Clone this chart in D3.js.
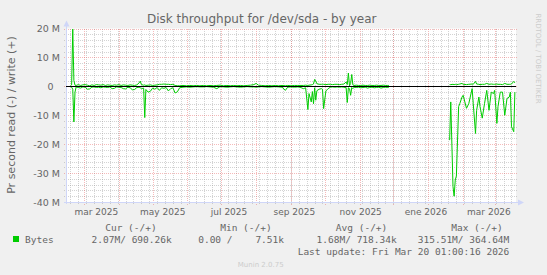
<!DOCTYPE html>
<html><head><meta charset="utf-8">
<script src="https://cdn.jsdelivr.net/npm/d3@7"></script>
<style>
html,body{margin:0;padding:0;background:#f0f0f0;}
svg{display:block;}
text{font-family:"DejaVu Sans",sans-serif;fill:#666666;}
.mono{font-family:"DejaVu Sans Mono",monospace;white-space:pre;}
</style></head><body>
<svg id="chart" width="547" height="275"></svg>
<script>
// ---------- data ----------
const title = "Disk throughput for /dev/sda - by year";
const yTitle = "Pr second read (-) / write (+)";
const startDate = new Date(2025, 1, 13, 1, 0, 16);
const endDate = new Date(2026, 2, 20, 1, 0, 16);
const yMajorTicks = [20, 10, 0, -10, -20, -30, -40];           // M
const yTickLabels = ["20 M", "10 M", "0", "-10 M", "-20 M", "-30 M", "-40 M"];
const xLabelDates = ["2025-03-12", "2025-05-10", "2025-07-08", "2025-09-04", "2025-11-02", "2025-12-30", "2026-02-24"];
const xLabels = ["mar 2025", "may 2025", "jul 2025", "sep 2025", "nov 2025", "ene 2026", "mar 2026"];
// days since startDate
const dayOffsets = [
  4,5,6,7,8,9,11,13,15,17,19,21,23,25,27,29,31,33,35,37,39,41,43,45,47,49,51,53,55,57,59,61,63,65,66,67,69,70,71,73,75,77,79,81,83,85,87,89,91,93,95,97,99,
  101,104,107,110,113,116,119,122,125,128,131,134,137,140,143,146,149,152,155,158,161,164,167,169,171,174,177,180,183,186,189,192,195,197,200,203,206,
  208,211,213,215,216,218,219,220,221,222,223,225,227,228,229,231,233,235,237,239,241,243,245,247,249,250,251,252,253,254,255,256,258,260,262,264,266,268,270,272,274,276,278,280,282,284,286,287,
  314,
  341,342,344,345,346,347,349,350,352,353,356,358,361,362,364,365,367,368,370,372,374,376,378,380,381,383,384,386,388,390,392,394,395,396,398,399
];
// write bytes/s (M), positive side
const writeM = [
  0.2,0.5,19.8,2.0,0.4,0.3,0.6,0.3,0.5,0.6,0.4,0.2,0.5,0.3,0.6,0.5,0.4,0.6,0.3,0.5,0.4,0.3,0.5,0.4,0.6,0.3,0.5,0.4,0.3,0.5,0.4,0.3,0.5,1.2,1.8,0.6,0.4,0.5,0.3,0.4,0.5,0.3,0.4,0.5,0.7,0.7,0.8,0.7,0.7,0.6,0.7,0.3,0.2,
  0.2,0.3,0.2,0.3,0.2,0.3,0.2,0.3,0.2,0.3,0.2,0.3,0.4,0.2,0.3,0.2,0.3,0.2,0.3,0.2,0.3,0.4,0.6,1.0,0.4,0.3,0.2,0.3,0.2,0.3,0.2,0.3,0.2,0.3,0.2,0.3,0.3,
  0.3,0.3,0.4,0.3,0.4,0.5,0.6,0.8,2.4,1.8,0.9,0.7,0.7,0.7,0.7,0.6,0.7,0.7,0.6,0.7,0.7,0.6,0.7,0.8,1.5,0.6,4.6,0.2,1.0,4.1,0.5,0.3,0.4,0.3,0.3,0.4,0.3,0.3,0.4,0.3,0.3,0.4,0.3,0.3,0.4,0.3,0.3,0.3,
  null,
  0.6,0.6,0.7,0.6,0.7,0.6,0.7,0.8,1.0,0.7,0.6,0.7,0.8,0.7,1.7,0.8,0.7,0.6,0.7,0.7,1.0,0.7,0.8,0.7,0.7,0.8,0.7,0.7,0.6,1.0,0.7,0.7,0.7,0.8,1.7,1.2
];
// read bytes/s (M), drawn negative
const readM = [
  -0.1,-0.3,-1.0,-12.3,-2.0,-0.2,-0.4,-0.6,-0.2,-0.3,-1.0,-0.9,-0.3,-0.2,-0.4,-0.3,-0.5,-0.2,-0.3,-0.4,-0.2,-0.8,-0.7,-0.2,-0.3,-0.4,-0.8,-0.9,-0.3,-0.5,-1.2,-1.1,-0.4,-0.3,-0.5,-0.8,-0.6,-10.8,-1.1,-2.0,-1.7,-0.6,-1.0,-0.4,-1.4,-0.5,-0.7,-0.4,-1.6,-0.8,-0.5,-2.3,-1.9,
  -0.5,-0.3,-0.2,-0.3,-0.2,-0.1,-0.2,-0.2,-0.1,-0.2,-0.3,-0.8,-0.1,-0.2,-0.3,-0.2,-0.1,-0.2,-0.3,-0.2,-0.1,-0.2,-0.2,-0.3,-0.2,-0.1,-0.2,-0.3,-0.2,-0.1,-0.2,-0.3,-1.4,-0.3,-0.2,-0.3,-0.2,
  -0.3,-0.8,-0.5,-8.0,-2.5,-5.4,-1.8,-6.0,-0.5,-4.8,-1.5,-1.0,-0.8,-1.0,-7.7,-1.6,-0.8,-0.3,-0.2,-0.3,-0.2,-0.3,-0.2,-0.3,-0.5,-5.6,-0.5,-0.8,-3.1,-0.4,-0.8,-0.3,-0.4,-0.3,-0.5,-0.4,-0.3,-0.6,-0.4,-0.3,-0.5,-0.4,-0.3,-0.6,-0.4,-0.3,-0.4,-0.3,
  null,
  -18.6,-5.4,-34.7,-38.0,-32.4,-31.0,-7.0,-6.0,-3.7,-3.1,-7.6,-6.0,-0.8,-6.0,-16.3,-8.3,-3.7,-7.0,-11.0,-6.0,-1.4,-8.3,-2.0,-2.5,-1.4,-12.8,-7.0,-2.0,-2.0,-10.0,-4.2,-3.7,-2.0,-14.0,-15.7,-2.0
];
const seriesName = "Bytes";
const legendHeaders = ["Cur (-/+)", "Min (-/+)", "Avg (-/+)", "Max (-/+)"];
const legendValues = ["2.07M/ 690.26k", "0.00 /    7.51k", "1.68M/ 718.34k", "315.51M/ 364.64M"];
const lastUpdate = "Last update: Fri Mar 20 01:00:16 2026";
const watermark = "RRDTOOL / TOBI OETIKER";
const footer = "Munin 2.0.75";

// ---------- layout ----------
const svg = d3.select("#chart");
const X0 = 66, X1 = 516, YT = 28.5, YB = 202;
const x = d3.scaleTime().domain([startDate, endDate]).range([X0, X1]);
const y = d3.scaleLinear().domain([-40, 20]).range([YB, YT]);
const px = v => Math.round(v) + 0.5;
const minorCol = "rgba(150,150,150,0.42)";
const majorCol = "rgba(230,90,90,0.42)";

svg.append("rect").attr("width", 547).attr("height", 275).attr("fill", "#f0f0f0");
svg.append("rect").attr("x", X0).attr("y", YT).attr("width", X1 - X0).attr("height", YB - YT).attr("fill", "#ffffff");

const grid = svg.append("g").attr("shape-rendering", "crispEdges");
// minor horizontal grid every 2M
const minorY = d3.range(-40, 21, 2).filter(v => v % 10 !== 0);
grid.selectAll(".hmin").data(minorY).join("line")
  .attr("x1", X0 - 2).attr("x2", X1 + 2).attr("y1", d => px(y(d))).attr("y2", d => px(y(d)))
  .attr("stroke", minorCol).attr("stroke-dasharray", "1,1");
// minor vertical grid: weeks
const weeks = d3.timeMonday.range(startDate, endDate);
grid.selectAll(".vmin").data(weeks).join("line")
  .attr("x1", d => px(x(d))).attr("x2", d => px(x(d))).attr("y1", YT).attr("y2", YB + 2)
  .attr("stroke", minorCol).attr("stroke-dasharray", "1,1");
// major horizontal
grid.selectAll(".hmaj").data(yMajorTicks).join("line")
  .attr("x1", X0 - 2).attr("x2", X1 + 2).attr("y1", d => px(y(d))).attr("y2", d => px(y(d)))
  .attr("stroke", majorCol).attr("stroke-dasharray", "1,1");
// major vertical: months
const months = d3.timeMonth.range(d3.timeMonth.ceil(startDate), endDate);
grid.selectAll(".vmaj").data(months).join("line")
  .attr("x1", d => px(x(d))).attr("x2", d => px(x(d))).attr("y1", YT).attr("y2", YB + 4)
  .attr("stroke", majorCol).attr("stroke-dasharray", "1,1");

// axes
const axisCol = "#CFD6F8";
grid.append("line").attr("x1", px(X0)).attr("x2", px(X0)).attr("y1", YB + 2).attr("y2", 24).attr("stroke", axisCol);
grid.append("line").attr("x1", X0 - 2).attr("x2", X1 + 5).attr("y1", px(YB)).attr("y2", px(YB)).attr("stroke", axisCol);
svg.append("path").attr("d", `M${X0 - 2.5},26.5 L${X0 + 0.5},20.5 L${X0 + 3.5},26.5 Z`).attr("fill", axisCol);
svg.append("path").attr("d", `M${X1 + 2},${YB - 2.5} L${X1 + 8},${YB + 0.5} L${X1 + 2},${YB + 3.5} Z`).attr("fill", axisCol);

// series lines
const pts = dayOffsets.map((d, i) => ({ t: d3.timeDay.offset(startDate, d), w: writeM[i], r: readM[i] }));
const lineW = d3.line().defined(p => p.w != null).x(p => x(p.t)).y(p => y(p.w));
const lineR = d3.line().defined(p => p.r != null).x(p => x(p.t)).y(p => y(p.r));
svg.append("path").attr("d", lineR(pts)).attr("fill", "none").attr("stroke", "#00cc00").attr("stroke-width", 1);
svg.append("path").attr("d", lineW(pts)).attr("fill", "none").attr("stroke", "#00cc00").attr("stroke-width", 1);
// zero rule
svg.append("line").attr("x1", X0).attr("x2", X1).attr("y1", y(0)).attr("y2", y(0))
  .attr("stroke", "#000").attr("stroke-width", 1).attr("shape-rendering", "crispEdges");

// y labels
svg.selectAll(".ylab").data(yMajorTicks).join("text")
  .attr("x", (d, i) => yTickLabels[i] === "0" ? 53.5 : 60).attr("y", d => y(d) + 3.7)
  .attr("text-anchor", "end").attr("font-size", "9.5px").text((d, i) => yTickLabels[i]);
// x labels
svg.selectAll(".xlab").data(xLabelDates).join("text")
  .attr("x", d => x(d3.timeParse("%Y-%m-%d")(d))).attr("y", 215)
  .attr("text-anchor", "middle").attr("font-size", "9px").text((d, i) => xLabels[i]);

// titles
svg.append("text").attr("x", 261.7).attr("y", 22.8).attr("text-anchor", "middle").attr("font-size", "12px").text(title);
svg.append("text").attr("transform", "translate(14.5,115) rotate(-90)").attr("text-anchor", "middle")
  .attr("font-size", "11px").text(yTitle);
svg.append("text").attr("transform", "translate(535.5,58.5) rotate(90)").attr("text-anchor", "middle")
  .attr("font-size", "7px").style("fill", "#cccccc").text(watermark);

// legend
const hdrEnd = [156.7, 271.7, 387.3, 502.7];
const valEnd = [171.7, 284, 396.7, 509.3];
svg.selectAll(".lh").data(legendHeaders).join("text").attr("class", "mono")
  .attr("x", (d, i) => hdrEnd[i]).attr("y", 231).attr("text-anchor", "end").attr("font-size", "9.5px").text(d => d);
svg.selectAll(".lv").data(legendValues).join("text").attr("class", "mono")
  .attr("x", (d, i) => valEnd[i]).attr("y", 242.5).attr("text-anchor", "end").attr("font-size", "9.5px").text(d => d);
svg.append("rect").attr("x", 13).attr("y", 236).attr("width", 6).attr("height", 6).attr("fill", "#00cc00");
svg.append("text").attr("class", "mono").attr("x", 25).attr("y", 242.5).attr("font-size", "9.5px").text(seriesName);
svg.append("text").attr("class", "mono").attr("x", 509.3).attr("y", 254.5).attr("text-anchor", "end").attr("font-size", "9.5px").text(lastUpdate);
svg.append("text").attr("x", 260.7).attr("y", 267).attr("text-anchor", "middle").attr("font-size", "7px").style("fill", "#cccccc").text(footer);
</script>
</body></html>
